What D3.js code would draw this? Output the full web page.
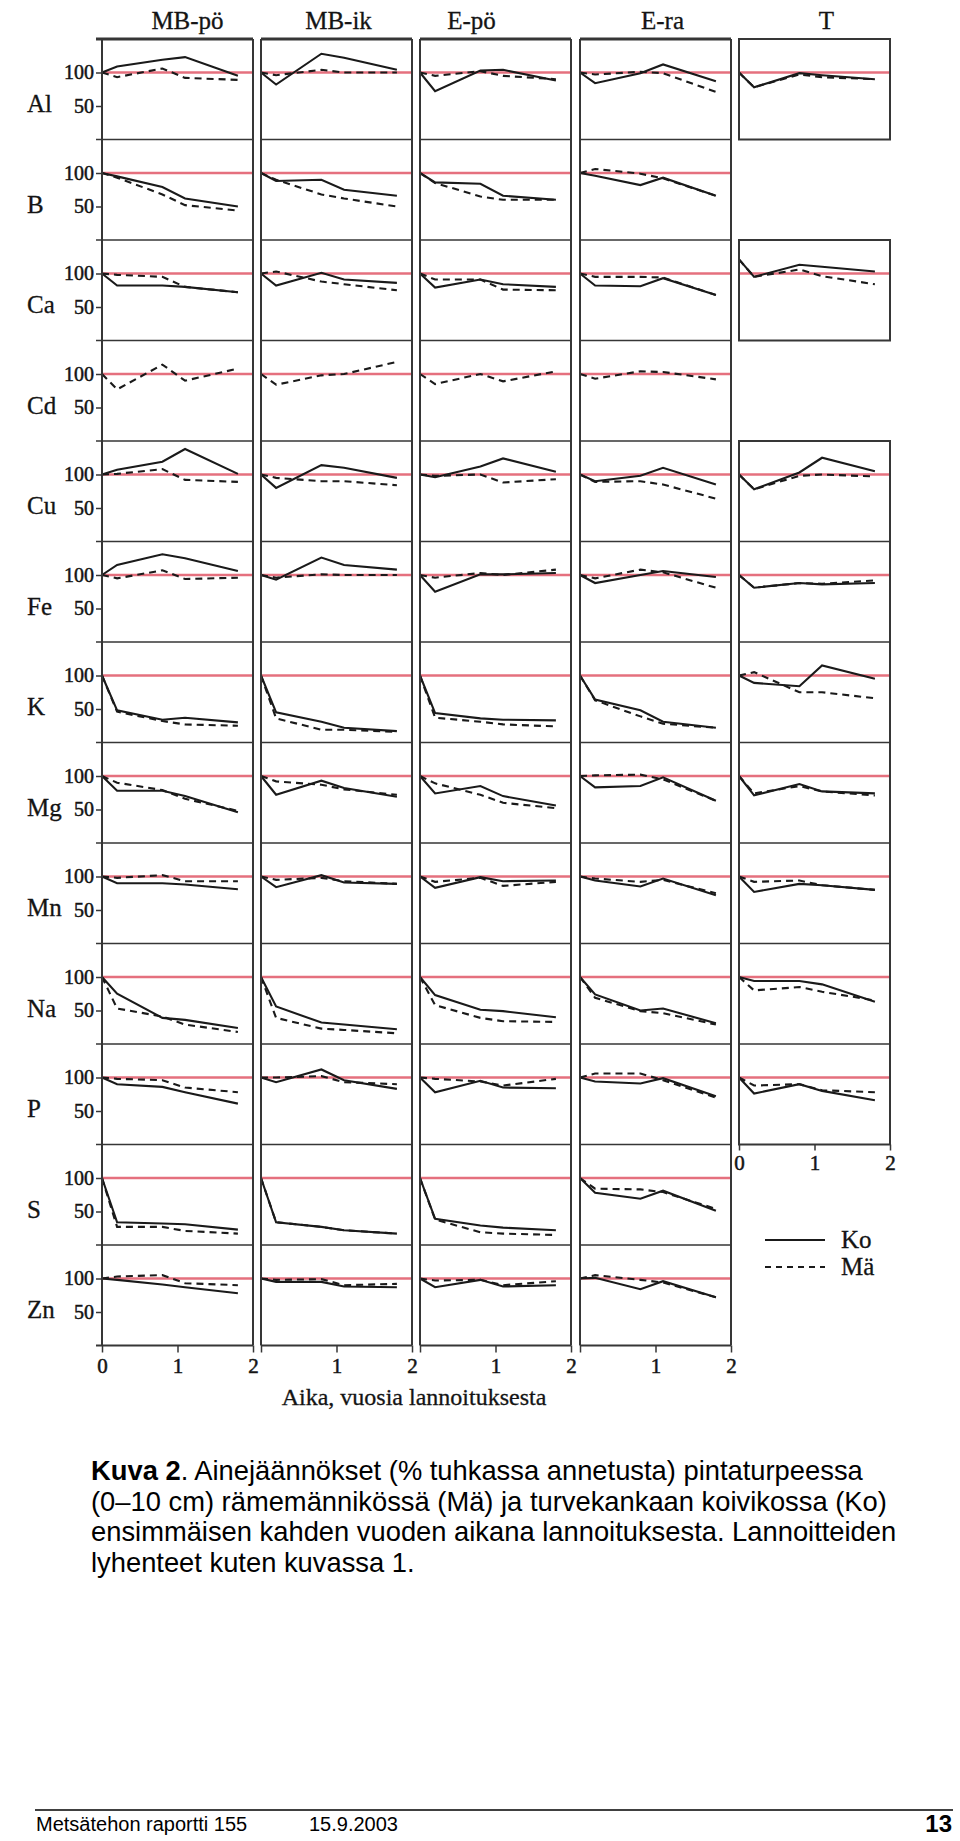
<!DOCTYPE html>
<html><head><meta charset="utf-8">
<script src="https://cdn.jsdelivr.net/npm/d3@7"></script>
<style>body{margin:0;background:#fff} svg{display:block}</style>
</head><body>
<svg id="chart" width="960" height="1841"></svg>
<script>
// ---------- data ----------
const treatments = ["MB-pö", "MB-ik", "E-pö", "E-ra", "T"];
const elements = ["Al", "B", "Ca", "Cd", "Cu", "Fe", "K", "Mg", "Mn", "Na", "P", "S", "Zn"];
const years = [0, 0.2, 0.8, 1.1, 1.8];
const yTickValues = [50, 100];
const xTickValues = [0, 1, 2];
const seriesNames = ["Ko", "Mä"];
const xTitle = "Aika, vuosia lannoituksesta";
// Ko (koivikko) residues, % of applied; rows = elements, cols = treatments (null = no panel / no line)
const Ko = [
  /* Al */ [[100,109,119,123,95],[100,82,128,122,104],[100,72,103,104,88],[100,84,99,112,87],[100,78,99,96,90]],
  /* B  */ [[100,95,79,62,50],[100,88,90,75,66],[100,86,84,66,60],[100,96,82,93,66],null],
  /* Ca */ [[100,82,82,80,72],[100,82,101,91,86],[100,79,91,84,80],[100,82,81,93,68],[121,95,113,110,103]],
  /* Cd */ [null,null,null,null,null],
  /* Cu */ [[100,107,119,138,101],[100,80,114,110,95],[100,96,112,124,104],[100,90,98,110,85],[100,78,103,125,105]],
  /* Fe */ [[100,115,131,125,106],[100,93,126,115,108],[100,75,101,101,103],[100,88,100,106,97],[100,81,88,86,88]],
  /* K  */ [[100,48,34,37,30],[100,45,31,22,17],[100,44,36,34,33],[100,64,48,31,22],[100,89,84,115,95]],
  /* Mg */ [[100,78,78,70,46],[100,72,93,82,69],[100,74,85,70,56],[100,83,85,98,63],[100,71,88,77,74]],
  /* Mn */ [[100,90,90,88,81],[100,84,102,91,89],[100,83,99,93,94],[100,94,85,97,72],[100,77,89,87,80]],
  /* Na */ [[100,75,39,36,24],[100,56,32,29,22],[100,73,51,49,40],[100,74,50,53,31],[100,94,94,89,63]],
  /* P  */ [[100,90,86,78,61],[100,93,112,96,83],[100,78,95,85,84],[100,94,91,99,72],[100,76,90,80,66]],
  /* S  */ [[100,34,32,31,23],[100,34,27,22,17],[100,39,29,26,22],[100,78,69,81,51],null],
  /* Zn */ [[100,98,91,87,78],[100,95,95,88,87],[100,87,98,88,90],[100,101,84,96,72],null]
];
// Mä (rämemänninkö) residues
const Ma = [
  /* Al */ [[100,93,106,92,89],[100,96,104,100,100],[100,95,102,95,90],[100,97,101,99,71],[100,78,97,93,90]],
  /* B  */ [[100,93,68,52,44],[100,90,68,62,50],[100,85,65,60,60],[100,106,99,92,66],null],
  /* Ca */ [[100,98,95,80,72],[100,103,88,84,75],[100,91,91,76,75],[100,95,95,94,68],[121,95,106,96,84]],
  /* Cd */ [[100,77,114,90,108],[100,84,98,100,118],[100,85,100,89,104],[100,93,104,103,92],null],
  /* Cu */ [[100,101,108,92,89],[100,95,90,90,84],[100,98,100,88,93],[100,89,90,85,64],[100,78,98,100,97]],
  /* Fe */ [[100,95,107,94,96],[100,96,101,100,100],[100,96,103,100,108],[100,95,108,104,81],[100,81,88,87,92]],
  /* K  */ [[100,46,32,27,25],[100,36,19,19,16],[100,37,31,27,24],[100,63,39,28,22],[100,105,75,75,66]],
  /* Mg */ [[100,90,79,66,48],[100,92,87,80,72],[100,89,72,60,52],[100,101,102,95,63],[100,74,85,77,71]],
  /* Mn */ [[100,98,102,93,93],[100,95,98,93,89],[100,92,98,86,92],[100,97,92,95,75],[100,92,94,87,80]],
  /* Na */ [[100,53,41,29,18],[100,39,23,21,16],[100,58,39,34,33],[100,69,49,46,29],[100,80,85,78,65]],
  /* P  */ [[100,98,96,85,78],[100,100,102,93,90],[100,98,94,88,98],[100,106,106,96,70],[100,88,90,81,78]],
  /* S  */ [[100,27,27,21,17],[100,34,27,22,17],[100,38,19,17,15],[100,84,83,79,54],null],
  /* Zn */ [[100,103,105,93,90],[100,98,99,90,92],[100,97,98,90,96],[100,105,98,94,72],null]
];
const captionBold = "Kuva 2";
const captionLines = [
  ". Ainejäännökset (% tuhkassa annetusta) pintaturpeessa",
  "(0–10 cm) rämemännikössä (Mä) ja turvekankaan koivikossa (Ko)",
  "ensimmäisen kahden vuoden aikana lannoituksesta. Lannoitteiden",
  "lyhenteet kuten kuvassa 1."
];
const footerLeft = ["Metsätehon raportti 155", "15.9.2003"];
const footerPage = "13";

// ---------- layout ----------
const svg = d3.select("#chart");
const serif = "'Liberation Serif', 'Times New Roman', serif";
const sans = "'Liberation Sans', Arial, sans-serif";
const colX = [102, 261, 420, 580, 739];
const colW = 151;
const top0 = 39, rowH = 100.5;
const nRows = elements.length;
const bottomY = top0 + nRows * rowH;
const tRows = [0, 2, 4, 5, 6, 7, 8, 9, 10];
const tSegments = [[0, 0], [2, 2], [4, 10]];
const refColor = "#e5707e";
const frameColor = "#363636";
const ink = "#141414";

const x = d3.scaleLinear().domain([0, 2]).range([0, colW]);
const y = d3.scaleLinear().domain([0, 150]).range([rowH, 0]);

const line = d3.line()
  .defined(d => d != null)
  .x((d, i) => x(years[i]))
  .y(d => y(d));

function heavy(sel, w) {
  sel.attr("fill", ink).attr("stroke", ink).attr("stroke-width", w).attr("paint-order", "stroke");
}

// column titles
const titleDx = [10, 2, -24, 7, 12];
svg.append("g").selectAll("text").data(treatments).join("text")
  .attr("x", (d, i) => colX[i] + colW / 2 + titleDx[i])
  .attr("y", 29)
  .attr("text-anchor", "middle")
  .attr("font-family", serif).attr("font-size", 25)
  .text(d => d).call(heavy, 0.3);

// row labels
svg.append("g").selectAll("text").data(elements).join("text")
  .attr("x", 27)
  .attr("y", (d, i) => top0 + i * rowH + 73)
  .attr("font-family", serif).attr("font-size", 25)
  .text(d => d).call(heavy, 0.3);

// cells
const plots = svg.append("g");
for (let r = 0; r < nRows; r++) {
  for (let c = 0; c < treatments.length; c++) {
    const hasPanel = c < 4 || tRows.includes(r);
    if (!hasPanel) continue;
    const g = plots.append("g").attr("transform", `translate(${colX[c]},${top0 + r * rowH})`);
    // reference line at 100
    g.append("line")
      .attr("x1", 0).attr("x2", colW)
      .attr("y1", y(100)).attr("y2", y(100))
      .attr("stroke", refColor).attr("stroke-width", 2.6);
    const ko = Ko[r][c], ma = Ma[r][c];
    if (ma) g.append("path").datum(ma).attr("d", line)
      .attr("fill", "none").attr("stroke", "#1a1a1a").attr("stroke-width", 2.1)
      .attr("stroke-dasharray", "7,5");
    if (ko) g.append("path").datum(ko).attr("d", line)
      .attr("fill", "none").attr("stroke", "#1a1a1a").attr("stroke-width", 2.1);
  }
}

// frames for the four main columns
const frames = svg.append("g").attr("stroke", frameColor).attr("fill", "none");
for (let c = 0; c < 4; c++) {
  const x0 = colX[c];
  frames.append("line").attr("x1", x0).attr("x2", x0).attr("y1", top0).attr("y2", bottomY).attr("stroke-width", 2);
  frames.append("line").attr("x1", x0 + colW).attr("x2", x0 + colW).attr("y1", top0).attr("y2", bottomY).attr("stroke-width", 2);
  for (let r = 0; r <= nRows; r++) {
    frames.append("line")
      .attr("x1", c === 0 ? x0 - 6 : x0).attr("x2", x0 + colW)
      .attr("y1", top0 + r * rowH).attr("y2", top0 + r * rowH)
      .attr("stroke-width", r === 0 ? 3 : (r === nRows ? 2.2 : 1.6));
  }
}
// frames for T column
tSegments.forEach(([a, b]) => {
  const x0 = colX[4];
  frames.append("rect").attr("x", x0).attr("y", top0 + a * rowH)
    .attr("width", colW).attr("height", (b - a + 1) * rowH).attr("stroke-width", 2);
  for (let r = a + 1; r <= b; r++) {
    frames.append("line").attr("x1", x0).attr("x2", x0 + colW)
      .attr("y1", top0 + r * rowH).attr("y2", top0 + r * rowH).attr("stroke-width", 1.6);
  }
});

// left y axes (first column)
for (let r = 0; r < nRows; r++) {
  const ax = svg.append("g")
    .attr("transform", `translate(${colX[0]},${top0 + r * rowH})`)
    .call(d3.axisLeft(y).tickValues(yTickValues).tickSize(6).tickPadding(2));
  ax.select(".domain").remove();
  ax.selectAll("line").attr("stroke", frameColor).attr("stroke-width", 1.5);
  ax.selectAll("text").attr("font-family", serif).attr("font-size", 20).call(heavy, 0.5);
}

// bottom x axes
for (let c = 0; c < 4; c++) {
  const ax = svg.append("g")
    .attr("transform", `translate(${colX[c]},${bottomY})`)
    .call(d3.axisBottom(x).tickValues(xTickValues).tickSize(7).tickPadding(6)
      .tickFormat(d => (c > 0 && d === 0) ? "" : d3.format("d")(d)));
  ax.select(".domain").remove();
  ax.selectAll("line").attr("stroke", frameColor).attr("stroke-width", 1.5);
  ax.selectAll("text").attr("font-family", serif).attr("font-size", 21).call(heavy, 0.5);
}
{
  const ax = svg.append("g")
    .attr("transform", `translate(${colX[4]},${top0 + 11 * rowH})`)
    .call(d3.axisBottom(x).tickValues(xTickValues).tickSize(6).tickPadding(5).tickFormat(d3.format("d")));
  ax.select(".domain").remove();
  ax.selectAll("line").attr("stroke", frameColor).attr("stroke-width", 1.5);
  ax.selectAll("text").attr("font-family", serif).attr("font-size", 21).call(heavy, 0.5);
}

// x axis title
svg.append("text")
  .attr("x", 414).attr("y", 1405)
  .attr("text-anchor", "middle")
  .attr("font-family", serif).attr("font-size", 24)
  .text(xTitle).call(heavy, 0.3);

// legend
const leg = svg.append("g").attr("transform", "translate(765,1240)");
seriesNames.forEach((s, i) => {
  leg.append("line").attr("x1", 0).attr("x2", 60)
    .attr("y1", i * 27).attr("y2", i * 27)
    .attr("stroke", "#1a1a1a").attr("stroke-width", 2)
    .attr("stroke-dasharray", i === 0 ? null : "6,5");
  leg.append("text").attr("x", 76).attr("y", i * 27 + 8)
    .attr("font-family", serif).attr("font-size", 25)
    .text(s).call(heavy, 0.3);
});

// caption
const cap = svg.append("g").attr("font-family", sans).attr("fill", "#000");
const capY = [1480, 1511, 1541, 1572];
const capTexts = captionLines.map((t, i) => {
  const tx = cap.append("text").attr("x", 91).attr("y", capY[i]).attr("font-size", 25);
  if (i === 0) tx.append("tspan").attr("font-weight", "bold").text(captionBold);
  tx.append("tspan").text(t);
  return tx;
});
const len0 = capTexts[0].node().getComputedTextLength();
const fs = 25 * 772 / len0;
capTexts.forEach(t => t.attr("font-size", fs));

// footer
svg.append("line").attr("x1", 35).attr("x2", 953).attr("y1", 1810).attr("y2", 1810)
  .attr("stroke", "#000").attr("stroke-width", 1.5);
svg.append("text").attr("x", 36).attr("y", 1831).attr("font-family", sans).attr("font-size", 20)
  .text(footerLeft[0]);
svg.append("text").attr("x", 309).attr("y", 1831).attr("font-family", sans).attr("font-size", 20)
  .text(footerLeft[1]);
svg.append("text").attr("x", 952).attr("y", 1832).attr("text-anchor", "end")
  .attr("font-family", sans).attr("font-size", 24).attr("font-weight", "bold")
  .text(footerPage);
</script>
</body></html>
